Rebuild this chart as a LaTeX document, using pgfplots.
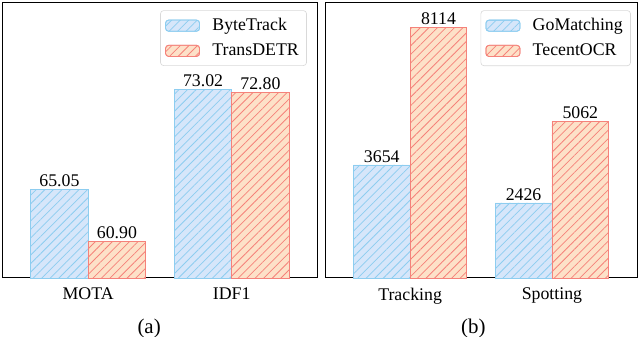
\documentclass[border=0pt]{standalone}
\usepackage{fontspec}
\setmainfont{Liberation Serif}
\usepackage{pgfplots}
\pgfplotsset{compat=1.18}
\usetikzlibrary{patterns.meta}
\definecolor{bluefill}{HTML}{D6E6FA}
\definecolor{blueline}{HTML}{8DCDF0}
\definecolor{orfill}{HTML}{FDE1C8}
\definecolor{orline}{HTML}{F5827A}

\newcommand{\lbl}{\fontsize{11.5}{13}\selectfont}
\tikzset{subcap/.style={font=\fontsize{13.5}{15}\selectfont, inner sep=0pt, anchor=center}}

\pgfplotsset{
  panel/.style={
    scale only axis, height=178.2pt,
    ybar=0pt, bar width=0.4,
    xmin=-0.6, xmax=1.6, xtick={0,1},
    ytick=\empty, xtick style={draw=none},
    axis line style={line width=0.6pt},
    ticklabel style={font=\lbl},
    xticklabel style={yshift=1.5pt},
    clip=false,
    nodes near coords, point meta=explicit symbolic,
    every node near coord/.append style={font=\lbl, inner sep=1.5pt},
    legend cell align=left,
    legend style={draw=black!15, rounded corners=2pt, font=\lbl,
      row sep=3pt, inner xsep=3pt, inner ysep=3pt},
  },
  legbox/.style={legend image code/.code={%
    \draw[##1] (0pt,-3.6pt) rectangle (22pt,3.6pt);
    \path (28pt,0pt);}},
  bluebar/.style={draw=blueline, fill=bluefill, line width=0.5pt,
    postaction={pattern={Lines[angle=45,distance=3.9pt,line width=0.5pt]}, pattern color=blueline}, legbox},
  orbar/.style={draw=orline, fill=orfill, line width=0.5pt,
    postaction={pattern={Lines[angle=45,distance=3.9pt,line width=0.5pt]}, pattern color=orline}, legbox},
}

\begin{document}
\begin{tikzpicture}
\begin{axis}[panel, width=204pt,
    ymin=58, ymax=80,
    xticklabels={MOTA, IDF1},
    legend style={at={(0.965,0.97)}, anchor=north east}]
\addplot[bluebar] coordinates {(0,65.05) [65.05] (1,73.02) [73.02]};
\addlegendentry{ByteTrack}
\addplot[orbar] coordinates {(0,60.90) [60.90] (1,72.80) [72.80]};
\addlegendentry{TransDETR}
\node[subcap] at (rel axis cs:0.5,0) [xshift=-7pt, yshift=-32.3pt] {(a)};
\end{axis}

\begin{axis}[panel, width=201.5pt, at={(208.6pt,0pt)},
    ymin=0, ymax=8925,
    xticklabels={Tracking, Spotting},
    legend style={at={(0.98,0.97)}, anchor=north east}]
\addplot[bluebar] coordinates {(0,3654) [3654] (1,2426) [2426]};
\addlegendentry{GoMatching}
\addplot[orbar] coordinates {(0,8114) [8114] (1,5062) [5062]};
\addlegendentry{TecentOCR}
\node[subcap] at (rel axis cs:0.5,0) [xshift=-5pt, yshift=-32.3pt] {(b)};
\end{axis}
\pgfresetboundingbox
\path[use as bounding box] (-1.3pt,-38.1pt) rectangle (412pt,179.5pt);
\end{tikzpicture}
\end{document}
